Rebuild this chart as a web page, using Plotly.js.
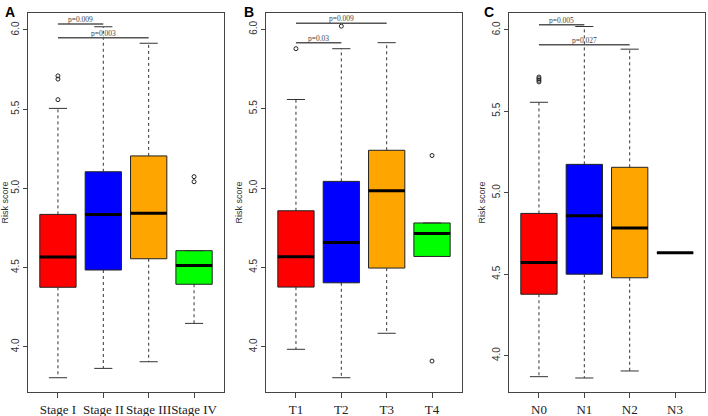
<!DOCTYPE html>
<html><head><meta charset="utf-8">
<script src="https://cdn.plot.ly/plotly-3.0.1.min.js"></script>
<style>
body { margin: 0; background: #fff; }
#chart { width: 708px; height: 416px; }
</style></head><body>
<div id="chart"></div>
<script>
// box colours shared by all three panels
const boxColors = ['#FF0000', '#0000FF', '#FFA500', '#00FF00'];

// Panel A: tumour stage
const stageCats = ['Stage I', 'Stage II', 'Stage III', 'Stage IV'];
const stageLower = [3.805, 3.864, 3.906, 4.148];
const stageQ1 = [4.376, 4.485, 4.556, 4.395];
const stageMedian = [4.567, 4.836, 4.843, 4.514];
const stageQ3 = [4.836, 5.105, 5.205, 4.607];
const stageUpper = [5.505, 6.02, 5.916, 4.607];
const stageOutliers = [[5.56, 5.69, 5.71], [], [], [5.042, 5.074]];
const stagePairs = [[1, 2], [1, 3]];
const stagePairY = [6.038, 5.951];
const stagePvals = ['p=0.009', 'p=0.003'];

// Panel B: T stage
const tCats = ['T1', 'T2', 'T3', 'T4'];
const tLower = [3.984, 3.805, 4.085, 4.569];
const tQ1 = [4.376, 4.403, 4.496, 4.569];
const tMedian = [4.567, 4.657, 4.983, 4.714];
const tQ3 = [4.857, 5.042, 5.238, 4.780];
const tUpper = [5.558, 5.878, 5.916, 4.780];
const tOutliers = [[5.878], [6.02], [], [5.205, 3.910]];
const tPairs = [[1, 2], [1, 3]];
const tPairY = [5.916, 6.038];
const tPvals = ['p=0.03', 'p=0.009'];

// Panel C: N stage
const nCats = ['N0', 'N1', 'N2', 'N3'];
const nLower = [3.871, 3.863, 3.906, 4.631];
const nQ1 = [4.377, 4.500, 4.478, 4.631];
const nMedian = [4.572, 4.859, 4.783, 4.631];
const nQ3 = [4.873, 5.174, 5.156, 4.631];
const nUpper = [5.555, 6.02, 5.881, 4.631];
const nOutliers = [[5.68, 5.69, 5.70, 5.71], [], [], []];
const nPairs = [[1, 2], [1, 3]];
const nPairY = [6.031, 5.908];
const nPvals = ['p=0.005', 'p=0.027'];

const yTicks = [4.0, 4.5, 5.0, 5.5, 6.0];
const yTickText = ['4.0', '4.5', '5.0', '5.5', '6.0'];

const traces = [];
const annotations = [];

function addPanel(n, cats, lower, q1, med, q3, upper, outliers, pairs, pairY, pvals) {
  const xa = n === 1 ? 'x' : 'x' + n;
  const ya = n === 1 ? 'y' : 'y' + n;
  cats.forEach((c, i) => {
    const x = i + 1;
    traces.push({
      type: 'box', x: [x], q1: [q1[i]], median: [med[i]], q3: [q3[i]],
      lowerfence: [q1[i]], upperfence: [q3[i]], width: 0.8, whiskerwidth: 0,
      fillcolor: boxColors[i], line: { color: '#222', width: 1 },
      xaxis: xa, yaxis: ya, hoverinfo: 'skip', showlegend: false
    });
    // dashed whiskers
    traces.push({
      type: 'scatter', mode: 'lines', x: [x, x, null, x, x],
      y: [q3[i], upper[i], null, q1[i], lower[i]],
      line: { color: '#333', width: 1, dash: '3px,3px' },
      xaxis: xa, yaxis: ya, hoverinfo: 'skip', showlegend: false
    });
    // whisker caps
    traces.push({
      type: 'scatter', mode: 'lines', x: [x - 0.2, x + 0.2, null, x - 0.2, x + 0.2],
      y: [upper[i], upper[i], null, lower[i], lower[i]],
      line: { color: '#333', width: 1 },
      xaxis: xa, yaxis: ya, hoverinfo: 'skip', showlegend: false
    });
    // thick median
    traces.push({
      type: 'scatter', mode: 'lines', x: [x - 0.4, x + 0.4], y: [med[i], med[i]],
      line: { color: '#000', width: 3 },
      xaxis: xa, yaxis: ya, hoverinfo: 'skip', showlegend: false
    });
    if (outliers[i].length) {
      traces.push({
        type: 'scatter', mode: 'markers', x: outliers[i].map(() => x), y: outliers[i],
        marker: { symbol: 'circle-open', size: 4, color: '#222', line: { width: 1 } },
        xaxis: xa, yaxis: ya, hoverinfo: 'skip', showlegend: false
      });
    }
  });
  pairs.forEach((p, k) => {
    traces.push({
      type: 'scatter', mode: 'lines', x: p, y: [pairY[k], pairY[k]],
      line: { color: '#555', width: 1.5 },
      xaxis: xa, yaxis: ya, hoverinfo: 'skip', showlegend: false
    });
    annotations.push({
      xref: xa, yref: ya, x: (p[0] + p[1]) / 2, y: pairY[k], yanchor: 'bottom',
      yshift: -2, text: pvals[k], showarrow: false,
      font: { family: 'Liberation Serif', size: 7.5, color: '#444' }
    });
  });
}

addPanel(1, stageCats, stageLower, stageQ1, stageMedian, stageQ3, stageUpper, stageOutliers, stagePairs, stagePairY, stagePvals);
addPanel(2, tCats, tLower, tQ1, tMedian, tQ3, tUpper, tOutliers, tPairs, tPairY, tPvals);
addPanel(3, nCats, nLower, nQ1, nMedian, nQ3, nUpper, nOutliers, nPairs, nPairY, nPvals);

function xAxis(domain, cats) {
  return {
    domain: domain, range: [0.34, 4.66], tickvals: [1, 2, 3, 4], ticktext: cats, tickangle: 0,
    showgrid: false, zeroline: false, showline: true, mirror: true,
    linecolor: '#444', linewidth: 1, ticks: 'outside', ticklen: 5, tickcolor: '#444',
    tickfont: { family: 'Liberation Serif', size: 13, color: '#222' }
  };
}
function yAxis(anchor, range) {
  return {
    anchor: anchor, range: range, tickvals: yTicks, ticktext: yTickText, tickangle: -90,
    showgrid: false, zeroline: false, showline: true, mirror: true,
    linecolor: '#444', linewidth: 1, ticks: 'outside', ticklen: 4, tickcolor: '#444',
    tickfont: { family: 'Liberation Sans', size: 10, color: '#333' },
    title: { text: 'Risk score', standoff: 3, font: { family: 'Liberation Sans', size: 9, color: '#333' } }
  };
}

const letters = [['A', 'x', -0.128], ['B', 'x2', -0.124], ['C', 'x3', -0.139]];
letters.forEach(l => annotations.push({
  xref: l[1] + ' domain', yref: 'paper', x: l[2], y: 1.03, xanchor: 'left', yanchor: 'top',
  text: '<b>' + l[0] + '</b>', showarrow: false,
  font: { family: 'Liberation Sans', size: 14, color: '#000' }
}));

const layout = {
  width: 708, height: 416,
  margin: { l: 28, r: 3, t: 13, b: 24 },
  paper_bgcolor: '#fff', plot_bgcolor: '#fff',
  showlegend: false, boxmode: 'overlay',
  xaxis: xAxis([0, 0.2895], stageCats),
  xaxis2: Object.assign(xAxis([0.3516, 0.641], tCats), { anchor: 'y2' }),
  xaxis3: Object.assign(xAxis([0.7105, 1], nCats), { anchor: 'y3' }),
  yaxis: yAxis('x', [3.715, 6.107]),
  yaxis2: yAxis('x2', [3.715, 6.103]),
  yaxis3: yAxis('x3', [3.777, 6.103]),
  annotations: annotations
};

Plotly.newPlot('chart', traces, layout, { staticPlot: true });
</script>
</body></html>
